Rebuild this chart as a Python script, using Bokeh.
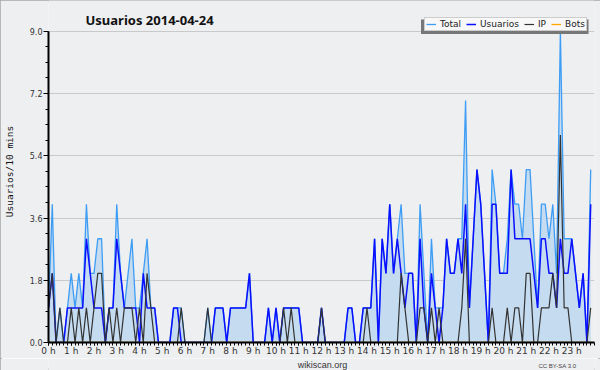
import numpy as np
from bokeh.plotting import figure
from bokeh.layouts import column
from bokeh.models import (Range1d, FixedTicker, PrintfTickFormatter, Legend, LegendItem,
                          Label, BoxAnnotation)
from bokeh.embed import file_html
from bokeh.resources import INLINE

# ---- data: users per 10 minutes, 2014-04-24 (144 ten-minute slots) ----
total = [
    1, 4, 0, 1, 0, 1,   2, 1, 2, 1, 4, 2,   2, 3, 3, 0, 1, 1,   4, 2, 1, 2, 3, 1,
    1, 2, 3, 1, 1, 0,   0, 0, 0, 1, 1, 1,   0, 0, 0, 0, 0, 0,   1, 0, 1, 1, 1, 0,
    1, 1, 1, 1, 1, 2,   0, 0, 0, 0, 1, 0,   1, 0, 1, 1, 1, 1,   1, 0, 0, 0, 0, 0,
    1, 0, 0, 0, 0, 0,   0, 1, 1, 0, 0, 1,   1, 1, 3, 0, 3, 2,   4, 2, 3, 4, 2, 2,
    2, 0, 4, 2, 0, 3,   1, 1, 1, 3, 2, 2,   3, 3, 7, 1, 3, 5,   4, 2, 0, 5, 4, 2,
    2, 3, 5, 4, 4, 3,   5, 5, 3, 1, 4, 4,   3, 4, 2, 9, 3, 3,   3, 2, 1, 2, 0, 5,
]
usuarios = [
    1, 2, 0, 0, 0, 1,   1, 1, 1, 1, 3, 2,   1, 1, 1, 0, 1, 1,   3, 2, 1, 1, 1, 1,
    0, 2, 1, 1, 1, 0,   0, 0, 0, 1, 1, 0,   0, 0, 0, 0, 0, 0,   0, 0, 1, 1, 1, 0,
    1, 1, 1, 1, 1, 2,   0, 0, 0, 0, 1, 0,   1, 0, 1, 1, 1, 1,   1, 0, 0, 0, 0, 0,
    1, 0, 0, 0, 0, 0,   0, 1, 1, 0, 0, 1,   1, 1, 3, 0, 3, 2,   4, 2, 3, 2, 1, 2,
    2, 0, 3, 1, 0, 2,   1, 0, 1, 3, 2, 2,   3, 2, 4, 1, 3, 5,   4, 2, 0, 4, 4, 2,
    2, 2, 5, 3, 3, 3,   3, 3, 2, 1, 3, 3,   2, 2, 1, 3, 2, 2,   3, 2, 1, 2, 0, 4,
]
ip = [
    1, 2, 0, 1, 0, 0,   1, 0, 1, 0, 1, 0,   1, 2, 2, 0, 1, 0,   1, 0, 1, 1, 1, 0,
    1, 0, 2, 1, 0, 0,   0, 0, 0, 0, 0, 1,   0, 0, 0, 0, 0, 0,   1, 0, 0, 0, 0, 0,
    0, 0, 0, 0, 0, 0,   0, 0, 0, 0, 0, 0,   0, 0, 1, 0, 1, 0,   0, 0, 0, 0, 0, 0,
    1, 0, 0, 0, 0, 0,   0, 0, 0, 0, 0, 0,   1, 0, 0, 0, 0, 0,   0, 0, 0, 2, 1, 0,
    0, 0, 1, 1, 0, 1,   0, 1, 0, 0, 0, 0,   0, 1, 3, 0, 0, 0,   0, 0, 0, 1, 0, 0,
    0, 1, 0, 1, 1, 0,   2, 2, 0, 0, 1, 1,   1, 2, 1, 6, 1, 1,   0, 0, 0, 0, 0, 1,
]
bots = [0] * 144

hours = list(range(24))
hour_labels = [f"{h} h" for h in hours]
y_ticks = [0.0, 1.8, 3.6, 5.4, 7.2, 9.0]

BG = "#eeeff1"

# x position of each 10-minute slot, in hours
x = np.arange(len(total)) / 6.0

# frame spans from the top of the canvas down to the x axis (344 px);
# the value axis 0..9 occupies the lower 313 px of it
y_top = 9.0 * 344 / 313

p = figure(width=600, height=358, output_backend="svg", toolbar_location=None,
           x_range=Range1d(0, 24), y_range=Range1d(0, y_top),
           min_border_left=46, min_border_right=6, min_border_top=0, min_border_bottom=14,
           background_fill_color=BG, border_fill_color=BG)

p.outline_line_color = None
p.xgrid.visible = False
p.ygrid.grid_line_color = "#c9c9c9"
p.ygrid.grid_line_width = 1

# y axis
p.yaxis.ticker = FixedTicker(ticks=y_ticks, minor_ticks=[k * 0.45 for k in range(21)])
p.yaxis.formatter = PrintfTickFormatter(format="%.1f")
p.yaxis.bounds = (0, 9)
p.yaxis.major_tick_out = 5
p.yaxis.major_tick_in = 0
p.yaxis.minor_tick_out = 3
p.yaxis.minor_tick_in = 0
p.yaxis.axis_line_width = 2
p.yaxis.major_label_standoff = 1
p.yaxis.major_label_text_font = "DejaVu Sans"
p.yaxis.major_label_text_font_size = "8px"
p.yaxis.major_label_text_color = "#333333"
p.yaxis.axis_label = "Usuarios/10 mins"
p.yaxis.axis_label_text_font = "DejaVu Sans Mono"
p.yaxis.axis_label_text_font_size = "9.5px"
p.yaxis.axis_label_text_font_style = "normal"
p.yaxis.axis_label_text_color = "#111111"
p.yaxis.axis_label_standoff = 12

# x axis
p.xaxis.ticker = FixedTicker(ticks=hours, minor_ticks=[k / 6.0 for k in range(145)])
p.xaxis.major_label_overrides = {h: lab for h, lab in zip(hours, hour_labels)}
p.xaxis.major_tick_out = 3
p.xaxis.major_tick_in = 0
p.xaxis.minor_tick_out = 3
p.xaxis.minor_tick_in = 0
p.xaxis.axis_line_width = 2
p.xaxis.major_label_standoff = 0
p.xaxis.major_label_text_font = "DejaVu Sans"
p.xaxis.major_label_text_font_size = "9px"
p.xaxis.major_label_text_color = "#333333"

# area under total
p.varea(x=x, y1=0, y2=total, fill_color="#c5dbef", fill_alpha=1.0)

rb = p.line(x, bots, line_color="#ffa500", line_width=1.3)
rt = p.line(x, total, line_color="#3d9df5", line_width=1.3)
ru = p.line(x, usuarios, line_color="#0a10ff", line_width=1.5)
ri = p.line(x, ip, line_color="#333333", line_width=1.2)

# title
p.add_layout(Label(x=37, y=323, x_units="screen", y_units="screen",
                   text="Usuarios  2014-04-24", text_align="left", text_baseline="alphabetic",
                   text_font="Noto Sans", text_font_size="13px", text_font_style="bold",
                   text_color="#111111"))

# legend shadow
shadow = BoxAnnotation(left=372.5, right=540, top=323, bottom=308.5,
                       left_units="screen", right_units="screen",
                       top_units="screen", bottom_units="screen",
                       fill_color="#777777", fill_alpha=1.0, line_color=None)
p.add_layout(shadow)

legend = Legend(items=[LegendItem(label="Total", renderers=[rt]),
                       LegendItem(label="Usuarios", renderers=[ru]),
                       LegendItem(label="IP", renderers=[ri]),
                       LegendItem(label="Bots", renderers=[rb])],
                orientation="horizontal", location=(376, 311),
                background_fill_color="#f8f8f8", background_fill_alpha=1.0,
                border_line_color="#a0a0a0", border_line_width=1,
                label_text_font="DejaVu Sans", label_text_font_size="9px",
                label_text_color="#222222",
                glyph_width=10, glyph_height=10, label_standoff=4, spacing=5,
                padding=1, margin=0, label_height=10, label_width=6)
p.add_layout(legend, "center")

# footer strip
f = figure(width=600, height=12, output_backend="svg", toolbar_location=None,
           x_range=Range1d(0, 600), y_range=Range1d(0, 12),
           x_axis_location=None, y_axis_location=None,
           min_border_left=0, min_border_right=0, min_border_top=0, min_border_bottom=0,
           background_fill_color=BG, border_fill_color=BG)
f.outline_line_color = None
f.grid.visible = False
f.add_layout(Label(x=301, y=6, text="wikiscan.org", text_align="center",
                   text_baseline="alphabetic", text_font="Liberation Sans",
                   text_font_size="9px", text_color="#333333"))
f.add_layout(Label(x=580, y=4.5, text="CC BY-SA 3.0", text_align="right",
                   text_baseline="alphabetic", text_font="Liberation Sans",
                   text_font_size="6px", text_color="#444444"))

layout = column(p, f, spacing=0,
                styles={"outline": "2px solid #a6a6a6", "outline-offset": "-2px"})

open("out.html", "w").write(file_html(layout, INLINE))
